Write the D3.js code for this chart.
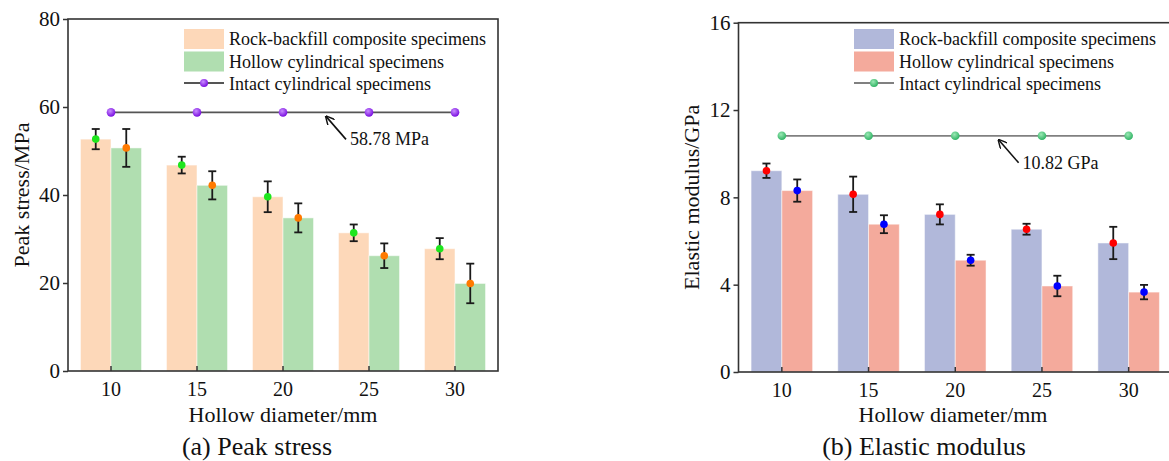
<!DOCTYPE html>
<html>
<head>
<meta charset="utf-8">
<script src="https://cdn.jsdelivr.net/npm/d3@7"></script>
<style>
  body { margin: 0; background: #fff; }
  svg text { font-family: "Liberation Serif", "Times New Roman", serif; fill: #111; }
</style>
</head>
<body>
<svg id="chart" width="1169" height="461"></svg>
<script>
// hollow diameters (categories)
const diameters = [10, 15, 20, 25, 30];

// (a) peak stress, MPa
const stressComposite = [52.7, 46.8, 39.6, 31.4, 27.8];
const stressCompositeErr = [2.3, 1.9, 3.5, 1.9, 2.4];
const stressHollow = [50.7, 42.2, 34.8, 26.2, 19.9];
const stressHollowErr = [4.3, 3.2, 3.3, 2.8, 4.5];
const stressIntact = 58.78;
const stressTicks = [0, 20, 40, 60, 80];

// (b) elastic modulus, GPa
const modulusComposite = [9.22, 8.14, 7.22, 6.54, 5.91];
const modulusCompositeErr = [0.33, 0.81, 0.46, 0.25, 0.74];
const modulusHollow = [8.31, 6.77, 5.12, 3.94, 3.66];
const modulusHollowErr = [0.51, 0.41, 0.25, 0.47, 0.33];
const modulusIntact = 10.82;
const modulusTicks = [0, 4, 8, 12, 16];

const legendLabels = ['Rock-backfill composite specimens', 'Hollow cylindrical specimens', 'Intact cylindrical specimens'];

const svg = d3.select('#chart');
const defs = svg.append('defs');

// arrow head for the annotation
defs.append('marker')
  .attr('id', 'arrow')
  .attr('viewBox', '0 0 10 10')
  .attr('refX', 9).attr('refY', 5)
  .attr('markerWidth', 9).attr('markerHeight', 9)
  .attr('markerUnits', 'userSpaceOnUse')
  .attr('orient', 'auto')
  .append('path').attr('d', 'M0,0 L10,5 L0,10').attr('fill', 'none').attr('stroke', '#111').attr('stroke-width', 1.6);

// shiny ball look for the markers
function ball(id, light, dark) {
  const g = defs.append('radialGradient').attr('id', id).attr('cx', '40%').attr('cy', '35%').attr('r', '65%');
  g.append('stop').attr('offset', '0%').attr('stop-color', light);
  g.append('stop').attr('offset', '100%').attr('stop-color', dark);
}
ball('purple', '#c98cff', '#7a0fe0');
ball('green', '#9be8b4', '#2fb364');

function drawPanel(o) {
  const g = svg.append('g');
  const x = d3.scaleBand().domain(diameters).range([o.left, o.right]).paddingInner(0.29).paddingOuter(0.145);
  const x1 = d3.scaleBand().domain(['a', 'b']).range([0, x.bandwidth()]);
  const y = d3.scaleLinear().domain([0, o.max]).range([o.bottom, o.top]);

  const rows = diameters.map((d, i) => [
    {d: d, k: 'a', v: o.a[i], e: o.aErr[i], fill: o.colA, dot: o.dotA},
    {d: d, k: 'b', v: o.b[i], e: o.bErr[i], fill: o.colB, dot: o.dotB}
  ]).flat();

  // bars
  g.selectAll('.bar').data(rows).enter().append('rect')
    .attr('x', r => x(r.d) + x1(r.k))
    .attr('width', x1.bandwidth())
    .attr('y', r => y(r.v))
    .attr('height', r => y(0) - y(r.v))
    .attr('fill', r => r.fill)
    .attr('stroke', '#ffffff').attr('stroke-opacity', 0.5).attr('stroke-width', 1);

  // error bars
  const cx = r => x(r.d) + x1(r.k) + x1.bandwidth() / 2;
  const err = g.selectAll('.err').data(rows).enter().append('g').attr('stroke', '#1a1a1a').attr('stroke-width', 1.8);
  err.append('line').attr('x1', cx).attr('x2', cx).attr('y1', r => y(r.v + r.e)).attr('y2', r => y(r.v - r.e));
  err.append('line').attr('x1', r => cx(r) - 4).attr('x2', r => cx(r) + 4).attr('y1', r => y(r.v + r.e)).attr('y2', r => y(r.v + r.e));
  err.append('line').attr('x1', r => cx(r) - 4).attr('x2', r => cx(r) + 4).attr('y1', r => y(r.v - r.e)).attr('y2', r => y(r.v - r.e));
  g.selectAll('.dot').data(rows).enter().append('circle')
    .attr('cx', cx).attr('cy', r => y(r.v)).attr('r', 3.8).attr('fill', r => r.dot);

  // intact line
  const mid = d => x(d) + x.bandwidth() / 2;
  g.append('line')
    .attr('x1', mid(diameters[0])).attr('x2', mid(diameters[diameters.length - 1]))
    .attr('y1', y(o.intact)).attr('y2', y(o.intact))
    .attr('stroke', o.lineCol).attr('stroke-width', 1.8);
  g.selectAll('.intact').data(diameters).enter().append('circle')
    .attr('cx', mid).attr('cy', y(o.intact)).attr('r', 4.3).attr('fill', `url(#${o.ball})`);

  // annotation
  const ax = (mid(20) + mid(25)) / 2;
  g.append('line')
    .attr('x1', ax + 20).attr('y1', y(o.intact) + 27)
    .attr('x2', ax).attr('y2', y(o.intact) + 4)
    .attr('stroke', '#111').attr('stroke-width', 1.6).attr('marker-end', 'url(#arrow)');
  g.append('text').attr('x', ax + 24).attr('y', y(o.intact) + 33)
    .attr('font-size', 18).text(o.note);

  // axes
  g.append('g').attr('transform', `translate(${o.left},0)`)
    .call(d3.axisLeft(y).tickValues(o.ticks).tickSize(5).tickSizeOuter(0).tickPadding(3))
    .call(a => a.selectAll('text').attr('font-size', 21).attr('font-family', 'Liberation Serif'))
    .call(a => a.select('.domain').remove())
    .call(a => a.selectAll('line').attr('stroke', '#333').attr('stroke-width', 1.5));
  g.append('g').attr('transform', `translate(0,${o.bottom})`)
    .call(d3.axisBottom(x).tickSize(-5).tickSizeOuter(0).tickPadding(11))
    .call(a => a.selectAll('text').attr('font-size', 20).attr('font-family', 'Liberation Serif'))
    .call(a => a.select('.domain').remove())
    .call(a => a.selectAll('line').attr('stroke', '#333').attr('stroke-width', 1.5));
  g.append('rect')
    .attr('x', o.left).attr('y', o.top).attr('width', o.right - o.left).attr('height', o.bottom - o.top)
    .attr('fill', 'none').attr('stroke', '#333').attr('stroke-width', 1.6);

  // titles
  g.append('text').attr('transform', `translate(${o.ytX},${(o.top + o.bottom) / 2}) rotate(-90)`)
    .attr('text-anchor', 'middle').attr('font-size', 22).text(o.yTitle);
  g.append('text').attr('x', o.xtX).attr('y', 422).attr('text-anchor', 'middle').attr('font-size', 22).text('Hollow diameter/mm');
  g.append('text').attr('x', o.capX).attr('y', 455).attr('text-anchor', 'middle').attr('font-size', 26).text(o.caption);

  // legend
  const lg = g.append('g').attr('transform', `translate(${o.legX},29)`);
  lg.append('rect').attr('x', 0).attr('y', 0).attr('width', 40).attr('height', 20).attr('fill', o.colA);
  lg.append('rect').attr('x', 0).attr('y', 22.5).attr('width', 40).attr('height', 20).attr('fill', o.colB);
  lg.append('line').attr('x1', 0).attr('x2', 40).attr('y1', 54).attr('y2', 54).attr('stroke', o.lineCol).attr('stroke-width', 1.8);
  lg.append('circle').attr('cx', 20).attr('cy', 54).attr('r', 4).attr('fill', `url(#${o.ball})`);
  lg.selectAll('.lt').data(legendLabels).enter().append('text')
    .attr('x', 45).attr('y', (d, i) => 10 + i * 22.5).attr('dy', '0.35em')
    .attr('font-size', 18).text(d => d);
}

drawPanel({
  left: 68, right: 498, top: 19, bottom: 371, max: 80, ticks: stressTicks,
  a: stressComposite, aErr: stressCompositeErr, b: stressHollow, bErr: stressHollowErr, intact: stressIntact,
  colA: '#fdd8b9', colB: '#b0deb0', dotA: '#1ee61e', dotB: '#ff7a00',
  lineCol: '#555', ball: 'purple', note: '58.78 MPa',
  yTitle: 'Peak stress/MPa', ytX: 29, xtX: 283, capX: 257, caption: '(a) Peak stress', legX: 184
});

drawPanel({
  left: 738.5, right: 1172, top: 22.7, bottom: 372, max: 16, ticks: modulusTicks,
  a: modulusComposite, aErr: modulusCompositeErr, b: modulusHollow, bErr: modulusHollowErr, intact: modulusIntact,
  colA: '#b1b8da', colB: '#f4aa9c', dotA: '#ff0000', dotB: '#0000ff',
  lineCol: '#808080', ball: 'green', note: '10.82 GPa',
  yTitle: 'Elastic modulus/GPa', ytX: 699, xtX: 953, capX: 924, caption: '(b) Elastic modulus', legX: 854
});
</script>
</body>
</html>
